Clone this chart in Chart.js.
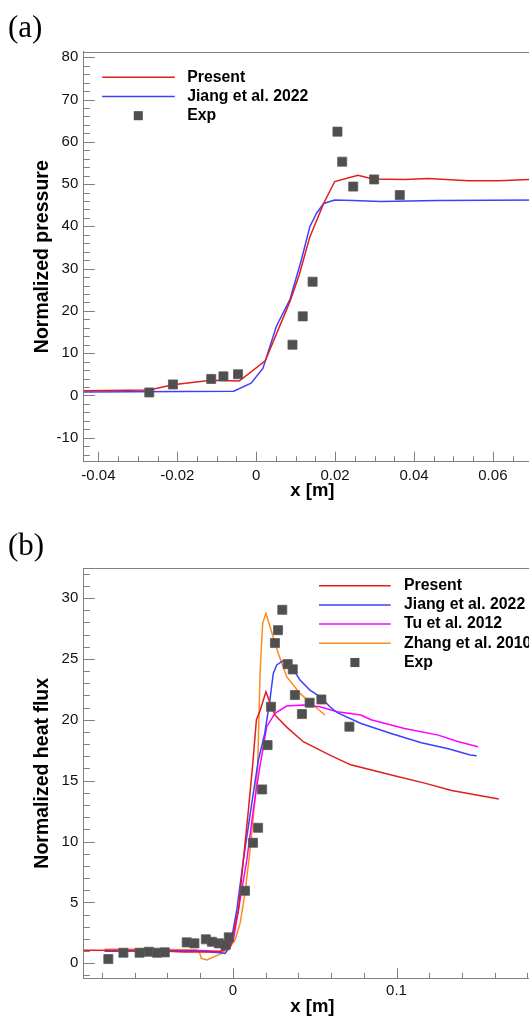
<!DOCTYPE html>
<html>
<head>
<meta charset="utf-8">
<script src="https://cdn.jsdelivr.net/npm/chart.js@4.4.1/dist/chart.umd.min.js"></script>
<style>
  html, body { margin: 0; padding: 0; background: #fff; overflow: hidden; width: 529px; height: 1016px; }
  #wrap { position: relative; width: 529px; height: 1016px; overflow: hidden; }
  canvas { position: absolute; left: 0; }
  #ca { top: 0; }
  #cb { top: 516px; }
  .tag { position: absolute; left: 8px; font-family: 'Liberation Serif', 'Times New Roman', serif;
         font-size: 31px; line-height: 31px; color: #000; }
</style>
</head>
<body>
<div id="wrap">
  <canvas id="ca" width="560" height="510"></canvas>
  <canvas id="cb" width="560" height="514"></canvas>
  <div class="tag" style="top:10.5px">(a)</div>
  <div class="tag" style="top:528.8px">(b)</div>
</div>
<script>
// ---- (a) wall pressure ----
const pressPresentX = [-0.0437, -0.0271, -0.0211, -0.0114, -0.0043, 0.0023, 0.0086, 0.0109, 0.0136, 0.0171, 0.0199, 0.0258, 0.0296, 0.0376, 0.0436, 0.0538, 0.0615, 0.0691, 0.0722];
const pressPresentY = [1.1, 1.3, 2.5, 3.6, 3.4, 8.2, 22.3, 28.5, 37.5, 45.4, 50.6, 52.1, 51.2, 51.1, 51.3, 50.8, 50.8, 51.1, 51.1];
const pressJiangX = [-0.0437, -0.0057, -0.0013, 0.0017, 0.0051, 0.0086, 0.0115, 0.0136, 0.0153, 0.0171, 0.0199, 0.0246, 0.0316, 0.046, 0.0722];
const pressJiangY = [0.8, 1.0, 2.9, 6.4, 16.3, 22.8, 32.2, 39.9, 43.1, 45.4, 46.2, 46.1, 45.9, 46.1, 46.2];
const pressExpX = [-0.0271, -0.0211, -0.0114, -0.0083, -0.0046, 0.0092, 0.0118, 0.0143, 0.0206, 0.0218, 0.0246, 0.0299, 0.0364];
const pressExpY = [0.7, 2.6, 3.9, 4.5, 5.0, 12.0, 18.7, 26.9, 62.4, 55.3, 49.4, 51.1, 47.4];

// ---- (b) wall heat flux ----
const fluxPresentX = [-0.0911, -0.05, -0.03, -0.02, -0.0078, -0.0017, 0.0003, 0.0034, 0.0064, 0.0095, 0.0121, 0.0144, 0.0165, 0.0202, 0.0227, 0.0257, 0.0329, 0.043, 0.0593, 0.072, 0.0987, 0.1172, 0.1337, 0.1625];
const fluxPresentY = [1.08, 1.05, 0.92, 0.92, 0.98, 1.25, 2.46, 4.38, 8.48, 12.6, 16.3, 20.0, 20.7, 22.3, 21.4, 20.4, 19.4, 18.2, 17.1, 16.3, 15.4, 14.8, 14.2, 13.5];
const fluxJiangX = [-0.0784, -0.05, -0.02, -0.0078, -0.0048, -0.0017, 0.0024, 0.0064, 0.0115, 0.0156, 0.0195, 0.0226, 0.0247, 0.0268, 0.0308, 0.0359, 0.041, 0.0471, 0.0532, 0.0593, 0.0638, 0.0783, 0.0967, 0.1152, 0.1317, 0.1451, 0.149];
const fluxJiangY = [1.0, 1.02, 1.0, 0.87, 0.82, 1.36, 4.38, 8.48, 13.1, 16.7, 18.9, 21.6, 23.8, 24.5, 24.85, 24.36, 23.27, 22.44, 21.9, 21.07, 20.58, 19.7, 18.88, 18.11, 17.62, 17.1, 17.05];
const fluxTuX = [-0.0784, -0.05, -0.02, -0.0078, -0.0017, 0.0003, 0.0044, 0.0085, 0.0125, 0.0162, 0.0207, 0.0257, 0.0329, 0.043, 0.0532, 0.0638, 0.0782, 0.0844, 0.1049, 0.1255, 0.1379, 0.1498];
const fluxTuY = [1.05, 1.05, 1.05, 1.0, 1.4, 1.91, 5.2, 8.48, 12.6, 15.9, 19.43, 20.53, 21.13, 21.21, 21.07, 20.66, 20.39, 20.0, 19.29, 18.74, 18.2, 17.78];
const fluxZhangX = [-0.0784, -0.05, -0.022, -0.0202, -0.0193, -0.0159, -0.0078, -0.0017, 0.0013, 0.0044, 0.0074, 0.0105, 0.0135, 0.0152, 0.0166, 0.0182, 0.0202, 0.0227, 0.0277, 0.0329, 0.041, 0.0491, 0.0562];
const fluxZhangY = [1.15, 1.15, 1.1, 0.82, 0.41, 0.27, 0.76, 1.36, 1.91, 3.28, 5.75, 9.3, 13.4, 16.3, 23.8, 27.9, 28.74, 27.64, 25.46, 23.54, 22.17, 21.21, 20.39];
const fluxExpX = [-0.0761, -0.0669, -0.057, -0.0514, -0.0463, -0.0416, -0.0282, -0.0235, -0.0165, -0.0128, -0.0086, -0.0045, -0.0025, 0.0074, 0.0123, 0.0154, 0.0179, 0.0212, 0.0233, 0.0257, 0.0276, 0.0302, 0.0335, 0.0366, 0.0379, 0.0422, 0.0469, 0.0541, 0.0712];
const fluxExpY = [0.35, 0.87, 0.87, 0.95, 0.87, 0.9, 1.72, 1.64, 1.97, 1.77, 1.64, 1.5, 2.13, 5.96, 9.9, 11.13, 14.28, 17.92, 21.07, 26.3, 27.36, 29.03, 24.57, 24.14, 22.03, 20.47, 21.4, 21.67, 19.43];

const FONT = "'Liberation Sans', Arial, Helvetica, sans-serif";
const FRAME = '#808080';
const RED = '#e01e1e', BLUE = '#3f3fff', MAGENTA = '#ff00ff', ORANGE = '#ff8a1f';

const pairs = (xs, ys) => xs.map((x, i) => ({ x, y: ys[i] }));
const lineSet = (label, xs, ys, color) => ({
  label, data: pairs(xs, ys), showLine: true, borderColor: color, backgroundColor: color,
  borderWidth: 1.5, pointRadius: 0, pointHoverRadius: 0, tension: 0, order: 1
});
const expSet = (label, xs, ys) => ({
  label, data: pairs(xs, ys), showLine: false, pointStyle: 'rect', pointRadius: 6.4,
  backgroundColor: '#4f4f4f', borderColor: '#5a5a5a', borderWidth: 0.8, order: 0
});

// inward major/minor tick marks plus the top edge of the frame
const frameTicks = {
  id: 'frameTicks',
  afterDatasetsDraw(chart, args, o) {
    const { ctx, chartArea: a, scales } = chart;
    ctx.save();
    ctx.strokeStyle = o.color;
    ctx.lineWidth = 1;
    ctx.beginPath();
    ctx.moveTo(a.left, Math.round(a.top) + 0.5);
    ctx.lineTo(a.right + 2, Math.round(a.top) + 0.5);
    const mark = (scale, t, horizontal) => {
      const first = Math.ceil(scale.min / t.step - 1e-9);
      const last = Math.floor(scale.max / t.step + 1e-9);
      for (let i = first; i <= last; i++) {
        const v = i * t.step;
        const q = v / t.major;
        const len = Math.abs(q - Math.round(q)) < 1e-6 ? t.len : t.minorLen;
        const p = Math.round(scale.getPixelForValue(v)) + 0.5;
        if (horizontal) { ctx.moveTo(p, a.bottom); ctx.lineTo(p, a.bottom - len); }
        else { ctx.moveTo(a.left, p); ctx.lineTo(a.left + len, p); }
      }
    };
    mark(scales.x, o.x, true);
    mark(scales.y, o.y, false);
    ctx.stroke();
    ctx.restore();
  }
};

// legend block inside the plot, built from the datasets
const cornerLegend = {
  id: 'cornerLegend',
  afterDatasetsDraw(chart, args, o) {
    const { ctx } = chart;
    ctx.save();
    ctx.font = `bold ${o.size}px ${FONT}`;
    ctx.textBaseline = 'middle';
    chart.data.datasets.forEach((ds, i) => {
      const y = o.y + i * o.row;
      if (ds.showLine) {
        ctx.strokeStyle = ds.borderColor;
        ctx.lineWidth = ds.borderWidth;
        ctx.beginPath();
        ctx.moveTo(o.x, y);
        ctx.lineTo(o.x + o.len, y);
        ctx.stroke();
      } else {
        const h = Math.SQRT1_2 * ds.pointRadius;
        ctx.fillStyle = ds.backgroundColor;
        ctx.fillRect(o.marker - h, y - h, 2 * h, 2 * h);
      }
      ctx.fillStyle = '#000';
      ctx.fillText(ds.label, o.textX, y);
    });
    ctx.restore();
  }
};

function axisLabel(v, digits) {
  const r = Math.round(v * Math.pow(10, digits)) / Math.pow(10, digits);
  return r === 0 ? '0' : String(r);
}

function buildChart(id, spec) {
  return new Chart(document.getElementById(id), {
    type: 'scatter',
    data: { datasets: spec.datasets },
    plugins: [frameTicks, cornerLegend],
    options: {
      responsive: false,
      animation: false,
      events: [],
      devicePixelRatio: 1,
      layout: { padding: { top: spec.top, right: spec.right, bottom: 0, left: 0 } },
      plugins: {
        legend: { display: false },
        tooltip: { enabled: false },
        frameTicks: { color: FRAME, x: spec.xTicks, y: spec.yTicks },
        cornerLegend: spec.legend
      },
      scales: {
        x: {
          type: 'linear', position: 'bottom', min: spec.xMin, max: spec.xMax,
          afterFit: s => { s.height = spec.xAxisHeight; },
          grid: { display: false, drawTicks: false },
          border: { display: true, color: FRAME, width: 1 },
          ticks: {
            stepSize: spec.xTicks.major, includeBounds: false, autoSkip: false, maxRotation: 0,
            padding: spec.xLabelPad, color: '#111', font: { family: FONT, size: 15 },
            callback: v => axisLabel(v, 3)
          },
          title: {
            display: true, text: 'x [m]', color: '#000',
            font: { family: FONT, size: 18.5, weight: 'bold' },
            padding: { top: 0, bottom: spec.xTitlePad }
          }
        },
        y: {
          type: 'linear', position: 'left', min: spec.yMin, max: spec.yMax,
          afterFit: s => { s.width = 83.8; },
          grid: { display: false, drawTicks: false },
          border: { display: true, color: FRAME, width: 1 },
          ticks: {
            stepSize: spec.yTicks.major, includeBounds: false, autoSkip: false,
            padding: 5.5, color: '#111', font: { family: FONT, size: 15 },
            callback: v => axisLabel(v, 2)
          },
          title: {
            display: true, text: spec.yTitle, color: '#000',
            font: { family: FONT, size: 19.5, weight: 'bold' },
            padding: { top: 31, bottom: 0 }
          }
        }
      }
    }
  });
}

buildChart('ca', {
  datasets: [
    lineSet('Present', pressPresentX, pressPresentY, RED),
    lineSet('Jiang et al. 2022', pressJiangX, pressJiangY, BLUE),
    expSet('Exp', pressExpX, pressExpY)
  ],
  top: 51.7, right: 19, xAxisHeight: 48.3,
  xMin: -0.0437, xMax: 0.0722, yMin: -15.68, yMax: 81.31,
  xTicks: { step: 0.005, major: 0.02, len: 10, minorLen: 5.5 },
  yTicks: { step: 2, major: 10, len: 11, minorLen: 6 },
  xLabelPad: 5.3, xTitlePad: 7.5,
  yTitle: 'Normalized pressure',
  legend: { x: 102.2, len: 72.6, y: 77.3, row: 19.2, marker: 138.3, textX: 187.2, size: 15.8 }
});

buildChart('cb', {
  datasets: [
    lineSet('Present', fluxPresentX, fluxPresentY, RED),
    lineSet('Jiang et al. 2022', fluxJiangX, fluxJiangY, BLUE),
    lineSet('Tu et al. 2012', fluxTuX, fluxTuY, MAGENTA),
    lineSet('Zhang et al. 2010', fluxZhangX, fluxZhangY, ORANGE),
    expSet('Exp', fluxExpX, fluxExpY)
  ],
  top: 52.3, right: 19, xAxisHeight: 51.7,
  xMin: -0.0911, xMax: 0.1883, yMin: -1.23, yMax: 32.44,
  xTicks: { step: 0.02, major: 0.1, len: 10, minorLen: 5.5 },
  yTicks: { step: 1, major: 5, len: 11, minorLen: 6 },
  xLabelPad: 3.7, xTitlePad: 11.5,
  yTitle: 'Normalized heat flux',
  legend: { x: 319, len: 71.7, y: 69.7, row: 19.2, marker: 354.9, textX: 404, size: 15.8 }
});
</script>
</body>
</html>
